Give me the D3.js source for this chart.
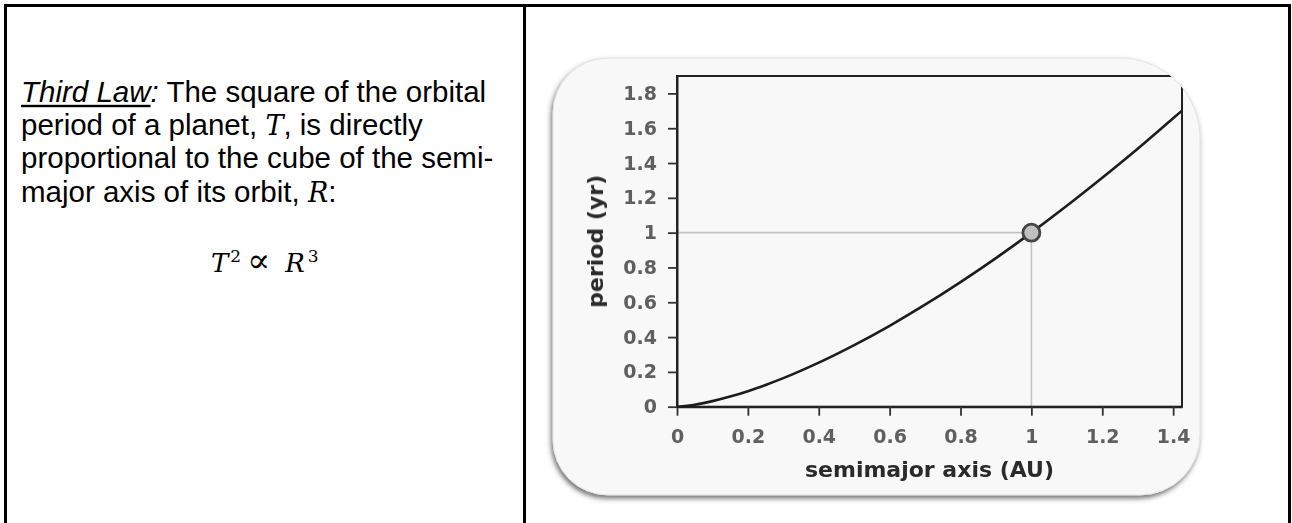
<!DOCTYPE html>
<html>
<head>
<meta charset="utf-8">
<script src="https://cdn.jsdelivr.net/npm/d3@7"></script>
<style>
  html, body { margin: 0; padding: 0; background: #fff; }
  svg { display: block; }
</style>
</head>
<body>
<svg id="page" width="1292" height="523"></svg>
<script>
// Orbital period against semimajor axis, sampled along the curve
const semimajorAxis = [0, 0.05, 0.1, 0.15, 0.2, 0.25, 0.3, 0.4, 0.5, 0.6, 0.7, 0.8, 0.9, 1.0, 1.1, 1.2, 1.3, 1.4, 1.425];
const orbitalPeriod = [0, 0.011, 0.032, 0.058, 0.089, 0.125, 0.164, 0.253, 0.354, 0.465, 0.586, 0.716, 0.854, 1.0, 1.154, 1.315, 1.482, 1.657, 1.701];

// Highlighted planet (Earth)
const markerAxis = [1];
const markerPeriod = [1];

// Axis ticks and titles
const xTicks = [0, 0.2, 0.4, 0.6, 0.8, 1, 1.2, 1.4];
const yTicks = [0, 0.2, 0.4, 0.6, 0.8, 1, 1.2, 1.4, 1.6, 1.8];
const xDomain = [0, 1.425];
const yDomain = [0, 1.9];
const xTitle = "semimajor axis (AU)";
const yTitle = "period (yr)";

const svg = d3.select("#page");

// ---- table frame ----
const frame = svg.append("g").attr("fill", "#000");
frame.append("rect").attr("x", 4).attr("y", 4).attr("width", 1287).attr("height", 3);
frame.append("rect").attr("x", 4).attr("y", 4).attr("width", 3).attr("height", 519);
frame.append("rect").attr("x", 523).attr("y", 4).attr("width", 3).attr("height", 519);
frame.append("rect").attr("x", 1288).attr("y", 4).attr("width", 3).attr("height", 519);

// ---- left cell text ----
const sans = "'Liberation Sans', Arial, sans-serif";
const serif = "'DejaVu Serif', 'Liberation Serif', serif";
const fs = 29.5;
const lineY = [101.7, 135, 168.3, 201.7];
const tx = 21;

const l1 = svg.append("text").attr("x", tx).attr("y", lineY[0])
  .attr("font-family", sans).attr("font-size", fs).attr("fill", "#000")
  .attr("xml:space", "preserve");
l1.append("tspan").attr("font-style", "italic").text("Third Law");
l1.append("tspan").attr("font-style", "italic").text(":");
l1.append("tspan").text(" The square of the orbital");
const ulLen = l1.node().getSubStringLength(0, 9);
svg.append("rect").attr("x", tx).attr("y", 104.8).attr("width", ulLen).attr("height", 2.4).attr("fill", "#000");

const l2 = svg.append("text").attr("x", tx).attr("y", lineY[1])
  .attr("font-family", sans).attr("font-size", fs).attr("fill", "#000")
  .attr("xml:space", "preserve");
l2.append("tspan").text("period of a planet, ");
l2.append("tspan").attr("font-family", serif).attr("font-style", "italic").attr("font-size", 27).text("T");
l2.append("tspan").text(", is directly");

svg.append("text").attr("x", tx).attr("y", lineY[2])
  .attr("font-family", sans).attr("font-size", fs).attr("fill", "#000")
  .text("proportional to the cube of the semi-");

const l4 = svg.append("text").attr("x", tx).attr("y", lineY[3])
  .attr("font-family", sans).attr("font-size", fs).attr("fill", "#000")
  .attr("xml:space", "preserve");
l4.append("tspan").text("major axis of its orbit, ");
l4.append("tspan").attr("font-family", serif).attr("font-style", "italic").attr("font-size", 27).text("R");
l4.append("tspan").text(":");

// Kepler's third law relation
const eq = svg.append("text").attr("x", 211).attr("y", 272.3)
  .attr("font-family", serif).attr("font-size", 26).attr("fill", "#000")
  .attr("xml:space", "preserve");
eq.append("tspan").attr("font-style", "italic").text("T");
eq.append("tspan").attr("font-size", 17).attr("dy", -10).attr("dx", 2).text("2");
eq.append("tspan").attr("dy", 10).attr("dx", 6).attr("font-size", 34).text("\u221D");
eq.append("tspan").attr("dx", 15).attr("font-size", 26).attr("font-style", "italic").text("R");
eq.append("tspan").attr("font-size", 17).attr("dy", -10).attr("dx", 3).text("3");

// ---- chart panel ----
const defs = svg.append("defs");
const shadow = defs.append("filter").attr("id", "panelShadow")
  .attr("x", "-10%").attr("y", "-10%").attr("width", "120%").attr("height", "125%");
shadow.append("feDropShadow").attr("dx", -1.5).attr("dy", 3).attr("stdDeviation", 2.5)
  .attr("flood-color", "#444").attr("flood-opacity", 0.75);
const soft = defs.append("filter").attr("id", "soft");
soft.append("feGaussianBlur").attr("stdDeviation", 0.75);

// panel outline with unequal corner radii
const px0 = 553, px1 = 1200, py0 = 58, py1 = 495;
const rTL = 55, rTR = 80, rBR = 60, rBL = 55;
const panelPath = [
  `M${px0 + rTL},${py0}`,
  `H${px1 - rTR}`,
  `A${rTR},${rTR} 0 0 1 ${px1},${py0 + rTR}`,
  `V${py1 - rBR}`,
  `A${rBR},${rBR} 0 0 1 ${px1 - rBR},${py1}`,
  `H${px0 + rBL}`,
  `A${rBL},${rBL} 0 0 1 ${px0},${py1 - rBL}`,
  `V${py0 + rTL}`,
  `A${rTL},${rTL} 0 0 1 ${px0 + rTL},${py0}`,
  "Z"
].join(" ");

defs.append("clipPath").attr("id", "panelClip").append("path").attr("d", panelPath);

svg.append("path").attr("d", panelPath)
  .attr("fill", "#f8f8f8").attr("stroke", "#e2e2e2").attr("stroke-width", 1)
  .attr("filter", "url(#panelShadow)");

const chart = svg.append("g").attr("clip-path", "url(#panelClip)")
  .append("g").attr("filter", "url(#soft)");

const x = d3.scaleLinear().domain(xDomain).range([677, 1182]);
const y = d3.scaleLinear().domain(yDomain).range([406.7, 76]);

const tickFont = "'DejaVu Sans', Verdana, sans-serif";

// reference lines to the highlighted planet
chart.append("line")
  .attr("x1", x(0)).attr("x2", x(markerAxis[0]))
  .attr("y1", y(markerPeriod[0])).attr("y2", y(markerPeriod[0]))
  .attr("stroke", "#c4c4c4").attr("stroke-width", 1.6);
chart.append("line")
  .attr("x1", x(markerAxis[0])).attr("x2", x(markerAxis[0]))
  .attr("y1", y(markerPeriod[0])).attr("y2", y(0))
  .attr("stroke", "#c4c4c4").attr("stroke-width", 1.6);

// plot box
chart.append("rect")
  .attr("x", x(xDomain[0])).attr("y", y(yDomain[1]))
  .attr("width", x(xDomain[1]) - x(xDomain[0]))
  .attr("height", y(yDomain[0]) - y(yDomain[1]))
  .attr("fill", "none").attr("stroke", "#222").attr("stroke-width", 2);

// axes
const yAxis = d3.axisLeft(y).tickValues(yTicks).tickSize(9).tickSizeOuter(0)
  .tickPadding(11).tickFormat(d => String(d));
const xAxis = d3.axisBottom(x).tickValues(xTicks).tickSize(9).tickSizeOuter(0)
  .tickPadding(14).tickFormat(d => String(d));

const gy = chart.append("g").attr("transform", `translate(${x(0)},0)`).call(yAxis);
const gx = chart.append("g").attr("transform", `translate(0,${y(0)})`).call(xAxis);
[gy, gx].forEach(g => {
  g.select(".domain").attr("stroke", "#222").attr("stroke-width", 2);
  g.selectAll(".tick line").attr("stroke", "#333").attr("stroke-width", 1.8);
  g.selectAll(".tick text")
    .attr("font-family", tickFont).attr("font-size", 19)
    .attr("font-weight", "bold").attr("fill", "#5e5e5e");
});

// period curve
const pts = semimajorAxis.map((a, i) => [a, orbitalPeriod[i]]);
const line = d3.line().x(d => x(d[0])).y(d => y(d[1])).curve(d3.curveMonotoneX);
chart.append("path").datum(pts).attr("d", line)
  .attr("fill", "none").attr("stroke", "#1e1e1e").attr("stroke-width", 2.6);

// highlighted planet
chart.selectAll("circle.planet").data(markerAxis).join("circle")
  .attr("class", "planet")
  .attr("cx", (d, i) => x(d)).attr("cy", (d, i) => y(markerPeriod[i]))
  .attr("r", 8.5).attr("fill", "#c0c0c0").attr("stroke", "#444").attr("stroke-width", 2.8);

// axis titles
chart.append("text")
  .attr("x", (x(xDomain[0]) + x(xDomain[1])) / 2).attr("y", 477)
  .attr("text-anchor", "middle")
  .attr("font-family", tickFont).attr("font-size", 22).attr("font-weight", "bold")
  .attr("fill", "#2a2a2a").text(xTitle);
chart.append("text")
  .attr("transform", `translate(595,${(y(yDomain[0]) + y(yDomain[1])) / 2}) rotate(-90)`)
  .attr("text-anchor", "middle").attr("dominant-baseline", "central")
  .attr("font-family", tickFont).attr("font-size", 22).attr("font-weight", "bold")
  .attr("fill", "#2a2a2a").text(yTitle);
</script>
</body>
</html>
